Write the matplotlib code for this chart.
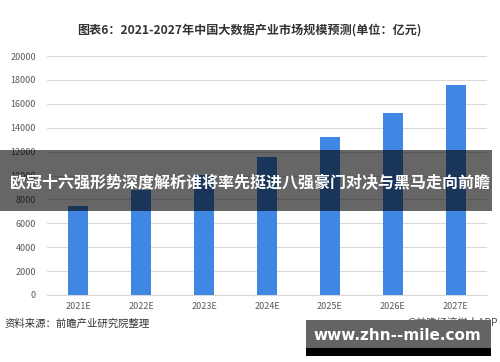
import matplotlib
matplotlib.use("Agg")
import matplotlib.pyplot as plt
from matplotlib.patches import Rectangle

plt.rcParams['font.family'] = ['Noto Sans CJK SC', 'DejaVu Sans']

categories = ["2021E", "2022E", "2023E", "2024E", "2025E", "2026E", "2027E"]
values = [7450, 8800, 10050, 11550, 13250, 15250, 17550]
yticks = [0, 2000, 4000, 6000, 8000, 10000, 12000, 14000, 16000, 18000, 20000]

title = "图表6：2021-2027年中国大数据产业市场规模预测(单位：亿元)"
source = "资料来源：前瞻产业研究院整理"
credit = "@前瞻经济学人APP"
banner = "欧冠十六强形势深度解析谁将率先挺进八强豪门对决与黑马走向前瞻"
site = "www.zhn--mile.com"

W, H = 500, 362
fig = plt.figure(figsize=(5, 3.62), dpi=100)
ax = fig.add_axes([47 / W, 1 - 295 / H, 440 / W, 239 / H])

x = range(len(categories))
ax.bar(x, values, width=0.32, color='#3f87e2', zorder=3)
ax.set_xlim(-0.5, 6.5)
ax.set_ylim(0, 20000)
ax.set_yticks(yticks)
ax.set_yticklabels([str(v) for v in yticks])
ax.set_xticks(list(x))
ax.set_xticklabels(categories)
ax.grid(axis='y', color='#d9d9d9', linewidth=0.8, zorder=0)
for s in ['top', 'right', 'left']:
    ax.spines[s].set_visible(False)
ax.spines['bottom'].set_color('#d9d9d9')
ax.spines['bottom'].set_linewidth(0.8)
ax.tick_params(axis='both', length=0, labelsize=6.5, colors='#595959')
ax.tick_params(axis='y', pad=8)
ax.tick_params(axis='x', pad=5)

fig.text(249 / W, 1 - 30 / H, title, ha='center', va='center', fontsize=8.7,
         fontweight='bold', color='#333333')
fig.text(5 / W, 1 - 324 / H, source, ha='left', va='center', fontsize=7.5,
         color='#333333')
fig.text(498 / W, 1 - 322 / H, credit, ha='right', va='center', fontsize=7.5,
         color='#555555')

# dark banner overlay
fig.patches.append(Rectangle((0, 1 - 211 / H), 492 / W, 61 / H, transform=fig.transFigure,
                             facecolor='black', alpha=0.6, edgecolor='none', zorder=10))
fig.text(250 / W, 1 - 183 / H, banner, ha='center', va='center', fontsize=11.5,
         fontweight='bold', color='white', zorder=11)

# site watermark box
fig.patches.append(Rectangle((306 / W, 1 - 348 / H), 185 / W, 28 / H, transform=fig.transFigure,
                             facecolor='#646464', edgecolor='none', zorder=10))
fig.patches.append(Rectangle((306 / W, 1 - 356 / H), 185 / W, 8 / H, transform=fig.transFigure,
                             facecolor='black', edgecolor='none', zorder=10))
fig.text(397 / W, 1 - 335 / H, site, ha='center', va='center', fontsize=11,
         fontweight='bold', color='white', family='DejaVu Sans', zorder=11)

fig.savefig("out.png", dpi=100, facecolor='white')
